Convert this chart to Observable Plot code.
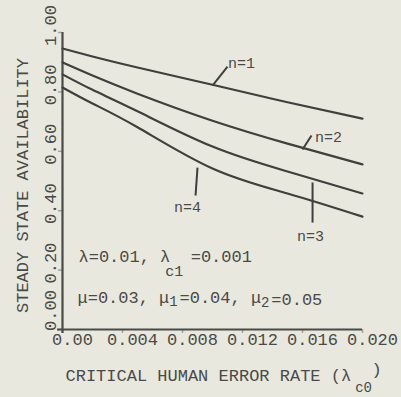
<!DOCTYPE html>
<html>
<head>
<meta charset="utf-8">
<script src="https://cdn.jsdelivr.net/npm/d3@7"></script>
<script src="https://cdn.jsdelivr.net/npm/@observablehq/plot@0.6"></script>
<style>
  html, body { margin: 0; padding: 0; background: #e8e8de; }
  #chart svg { display: block; }
</style>
</head>
<body>
<div id="chart"></div>
<script>
// ---- data ----
const errorRate = [0, 0.002, 0.005, 0.010, 0.015, 0.020];
const availN1 = [0.946, 0.919, 0.882, 0.824, 0.765, 0.710];
const availN2 = [0.899, 0.855, 0.794, 0.703, 0.626, 0.556];
const availN3 = [0.859, 0.807, 0.735, 0.616, 0.532, 0.458];
const availN4 = [0.815, 0.761, 0.681, 0.542, 0.458, 0.380];
const seriesNames = ["n=1", "n=2", "n=3", "n=4"];

const xTicks = [0, 0.004, 0.008, 0.012, 0.016, 0.020];
const xTickLabels = ["0.00", "0.004", "0.008", "0.012", "0.016", "0.020"];
const yTicks = [0, 0.2, 0.4, 0.6, 0.8, 1.0];
const yTickLabels = ["0.00", "0.20", "0.40", "0.60", "0.80", "1.00"];

// series label annotations (data units)
const labelX = [0.01193, 0.01773, 0.01653, 0.00833];
const labelY = [0.896, 0.646, 0.313, 0.411];
const leaderX1 = [0.0100, 0.0160, 0.01667, 0.0090];
const leaderY1 = [0.8215, 0.606, 0.495, 0.545];
const leaderX2 = [0.0110, 0.0166, 0.01667, 0.00887];
const leaderY2 = [0.8855, 0.653, 0.360, 0.451];

// ---- build tables ----
const series = [availN1, availN2, availN3, availN4];
const rows = [];
series.forEach((vals, i) => vals.forEach((v, j) => rows.push({n: seriesNames[i], x: errorRate[j], y: v})));
const labels = seriesNames.map((s, i) => ({text: s, x: labelX[i], y: labelY[i]}));
const leaders = seriesNames.map((s, i) => ({x1: leaderX1[i], y1: leaderY1[i], x2: leaderX2[i], y2: leaderY2[i]}));
const yTickRows = yTicks.map((v, i) => ({v, label: yTickLabels[i]}));

// ---- styling ----
const FONT = "'Liberation Mono', 'DejaVu Sans Mono', monospace";
const INK = "#4a4a48";
const ML = 62, MR = 39, MT = 32, MB = 68;

function seg(str, X, Y, opts = {}) {
  return Plot.text([str], {
    frameAnchor: "top-left", dx: X - ML, dy: Y - MT,
    textAnchor: "start", lineAnchor: "middle",
    fontFamily: FONT, fontSize: 17, fill: INK, ...opts
  });
}

const CW = 10.2; // monospace cell width at 17px
const yLabelStyle = {y: "v", text: "label", frameAnchor: "left", dx: -12, textAnchor: "middle",
  lineAnchor: "middle", rotate: -90, fontFamily: FONT, fontSize: 17, fill: INK};

const chart = Plot.plot({
  width: 401, height: 397,
  marginLeft: ML, marginRight: MR, marginTop: MT, marginBottom: MB,
  style: {background: "#e8e8de", fontFamily: FONT},
  x: {domain: [0, 0.02]},
  y: {domain: [0, 1]},
  marks: [
    // ticks
    Plot.axisX({ticks: xTicks, tickSize: 4, tickFormat: () => "", stroke: "#a3a39c", strokeWidth: 1.5}),
    Plot.axisY({ticks: yTicks, tickSize: 4, tickFormat: () => "", stroke: "#a3a39c", strokeWidth: 1.5}),
    // tick labels
    Plot.text(xTicks, {x: d => d, text: (d, i) => xTickLabels[i], frameAnchor: "bottom", dy: 15, dx: 10,
      textAnchor: "middle", fontFamily: FONT, fontSize: 17, fill: INK}),
    Plot.text(yTickRows, {...yLabelStyle, filter: d => d.v > 0, dy: -7}),
    Plot.text(yTickRows, {...yLabelStyle, filter: d => d.v === 0, dy: -19}),
    // axis lines
    Plot.ruleX([0], {stroke: "#4a4a48", strokeWidth: 2.2, insetBottom: -4}),
    Plot.ruleY([0], {stroke: "#4a4a48", strokeWidth: 2.2, insetLeft: -5}),
    // curves
    Plot.line(rows, {x: "x", y: "y", z: "n", curve: "natural", stroke: "#3f3f3d", strokeWidth: 2.2}),
    // series labels
    Plot.link(leaders, {x1: "x1", y1: "y1", x2: "x2", y2: "y2", stroke: "#3f3f3d", strokeWidth: 2}),
    Plot.text(labels, {x: "x", y: "y", text: "text", fontFamily: FONT, fontSize: 15, fill: INK}),
    // axis titles
    Plot.text(["STEADY STATE AVAILABILITY"], {frameAnchor: "top-left", dx: 22 - ML, dy: 185 - MT,
      textAnchor: "middle", lineAnchor: "middle", rotate: -90, fontFamily: FONT, fontSize: 17, fill: INK}),
    seg("CRITICAL HUMAN ERROR RATE (λ", 65, 375),
    seg("c0", 65 + 28.4 * CW, 387, {fontSize: 14}),
    seg(")", 65 + 30 * CW, 369),
    // parameter annotations
    seg("λ=0.01, λ", 78, 256),
    seg("c1", 78 + 8.5 * CW, 271, {fontSize: 15}),
    seg("=0.001", 78 + 11 * CW, 256),
    seg("μ=0.03, μ", 77, 297),
    seg("1", 77 + 9 * CW, 301, {fontSize: 14}),
    seg("=0.04, μ", 77 + 10 * CW, 297),
    seg("2", 77 + 18 * CW, 302, {fontSize: 14}),
    seg("=0.05", 77 + 19 * CW, 299)
  ]
});
document.getElementById("chart").append(chart);
</script>
</body>
</html>
